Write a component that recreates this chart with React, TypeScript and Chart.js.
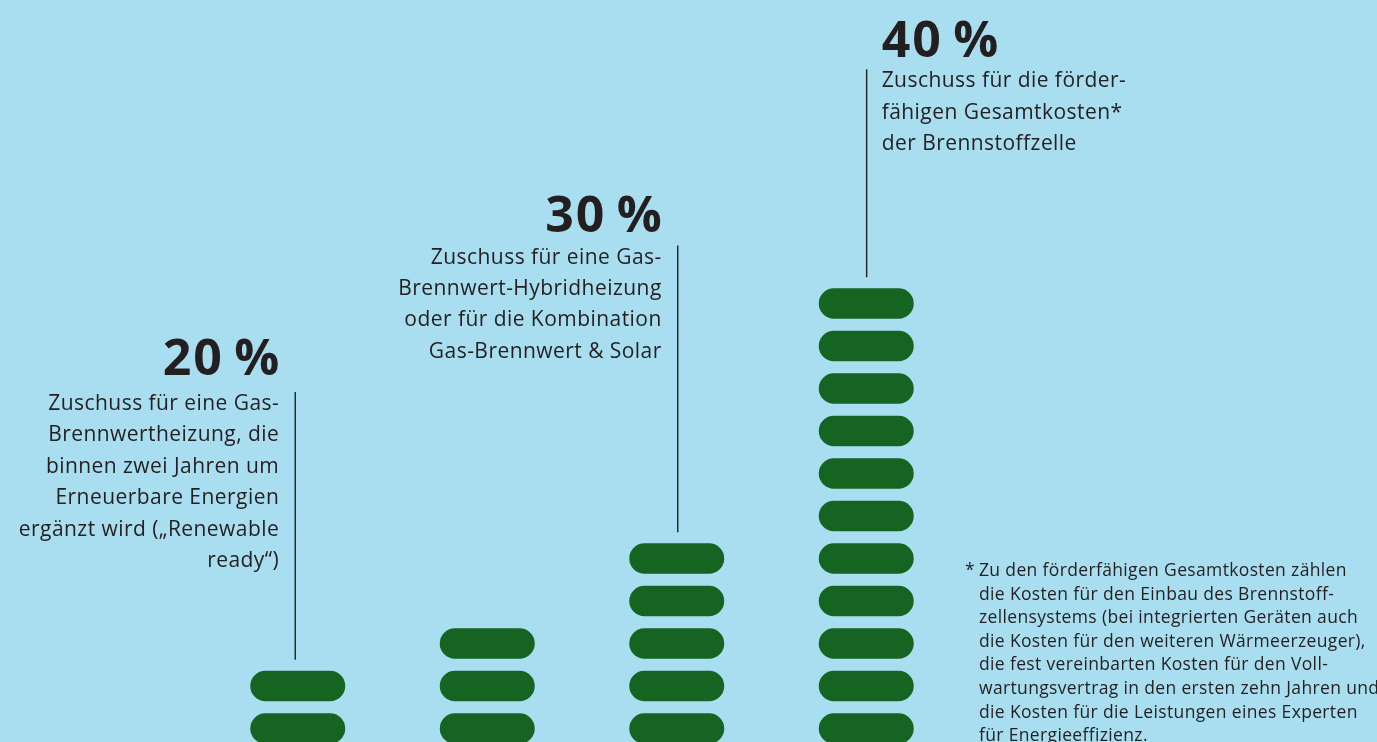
import React, { useEffect, useRef } from "react";
import { Chart, registerables } from "chart.js";

Chart.register(...registerables);

// ---- data ----
const categories = [
  "Gas-Brennwertheizung (Renewable ready)",
  "Gas-Brennwert",
  "Gas-Brennwert-Hybridheizung / Solar",
  "Brennstoffzelle",
];
const pillCounts = [2, 3, 5, 11];
const percentLabels = ["20\u2009%", "", "30\u2009%", "40\u2009%"];
const descriptions: string[][] = [
  [
    "Zuschuss für eine Gas-",
    "Brennwertheizung, die",
    "binnen zwei Jahren um",
    "Erneuerbare Energien",
    "ergänzt wird („Renewable",
    "ready“)",
  ],
  [],
  [
    "Zuschuss für eine Gas-",
    "Brennwert-Hybridheizung",
    "oder für die Kombination",
    "Gas-Brennwert & Solar",
  ],
  [
    "Zuschuss für die förder-",
    "fähigen Gesamtkosten*",
    "der Brennstoffzelle",
  ],
];
const footnoteLines = [
  "Zu den förderfähigen Gesamtkosten zählen",
  "die Kosten für den Einbau des Brennstoff-",
  "zellensystems (bei integrierten Geräten auch",
  "die Kosten für den weiteren Wärmeerzeuger),",
  "die fest vereinbarten Kosten für den Voll-",
  "wartungsvertrag in den ersten zehn Jahren und",
  "die Kosten für die Leistungen eines Experten",
  "für Energieeffizienz.",
];

// ---- layout / style ----
const PILL = 0.718;
const BG = "#a9def0";
const GREEN = "#166421";
const INK = "#231f20";
const FONT = '"Open Sans", "Noto Sans", sans-serif';
const labelLayout = [
  { side: "left", head: 375, text: 410, dx: -2.5 },
  null,
  { side: "left", head: 231.7, text: 263.5, dx: 1 },
  { side: "right", head: 56.7, text: 87.3, dx: 0.4 },
];

const annotationPlugin = {
  id: "annotations",
  afterDatasetsDraw(chart: any) {
    const ctx = chart.ctx;
    const xs = chart.scales.x;
    const ys = chart.scales.y;
    ctx.save();
    ctx.fillStyle = INK;
    ctx.strokeStyle = INK;
    categories.forEach((_, i) => {
      const lay = labelLayout[i];
      if (!lay) return;
      const x = xs.getPixelForValue(i) + lay.dx;
      const topPill = ys.getPixelForValue(pillCounts[i] - 1 + PILL);
      // leader line
      ctx.lineWidth = 1.4;
      ctx.beginPath();
      ctx.moveTo(x, lay.text - 18);
      ctx.lineTo(x, topPill - 11);
      ctx.stroke();
      const left = lay.side === "left";
      const tx = left ? x - 16 : x + 15;
      ctx.textAlign = left ? "right" : "left";
      ctx.textBaseline = "alphabetic";
      ctx.font = `bold 50px ${FONT}`;
      (ctx as any).letterSpacing = "2px";
      ctx.fillText(percentLabels[i], left ? tx + 2 : tx, lay.head);
      ctx.font = `21px ${FONT}`;
      (ctx as any).letterSpacing = "0.45px";
      descriptions[i].forEach((line, j) => {
        ctx.fillText(line, tx, lay.text + j * 31.4);
      });
    });
    // footnote
    ctx.textAlign = "left";
    ctx.font = `17.5px ${FONT}`;
    (ctx as any).letterSpacing = "0.35px";
    ctx.fillText("*", 965, 576);
    footnoteLines.forEach((line, j) => {
      ctx.fillText(line, 979, 576 + j * 23.6);
    });
    ctx.restore();
  },
};

export default function App() {
  const ref = useRef<HTMLCanvasElement>(null);
  useEffect(() => {
    document.body.style.margin = "0";
    document.body.style.overflow = "hidden";
    document.body.style.background = BG;
    const maxCount = Math.max(...pillCounts);
    const datasets = Array.from({ length: maxCount }, (_, k) => ({
      label: `Stufe ${k + 1}`,
      data: pillCounts.map((c) => (k < c ? [k, k + PILL] : null)),
      backgroundColor: GREEN,
      borderWidth: 0,
      borderRadius: 16,
      borderSkipped: false,
      grouped: false,
      barPercentage: 0.5013,
      categoryPercentage: 1,
    }));
    const chart = new Chart(ref.current!, {
      type: "bar",
      data: { labels: categories, datasets: datasets as any },
      options: {
        animation: false,
        responsive: true,
        maintainAspectRatio: false,
        layout: { padding: { left: 203, right: 416, top: 0, bottom: 0 } },
        plugins: { legend: { display: false }, tooltip: { enabled: false } },
        scales: {
          x: { display: false, type: "category" },
          y: { display: false, min: 0.042, max: 17.5 },
        },
      },
      plugins: [annotationPlugin],
    });
    return () => chart.destroy();
  }, []);
  return (
    <div style={{ position: "fixed", left: 0, top: 0, width: 1377, height: 742, background: BG }}>
      <canvas ref={ref} />
    </div>
  );
}
